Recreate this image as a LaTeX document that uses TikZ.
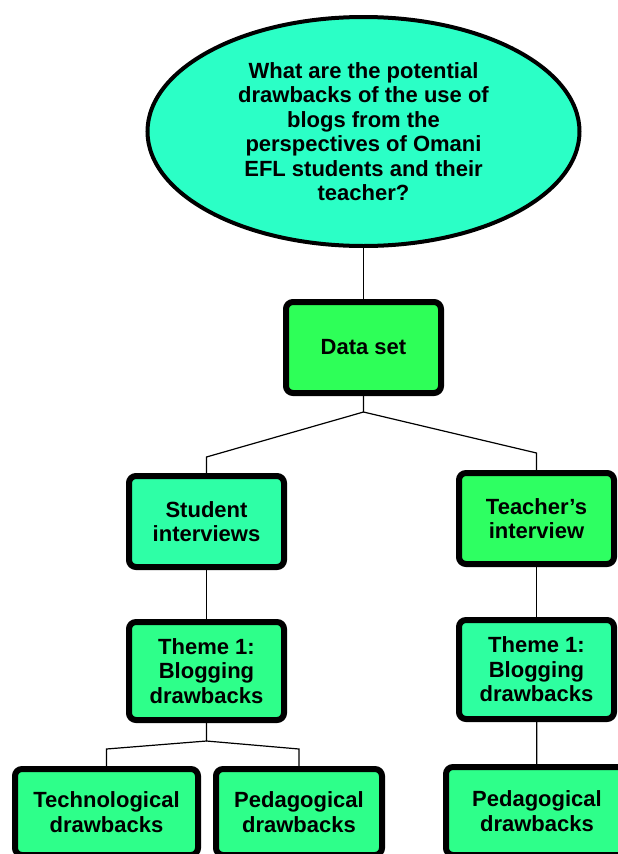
\documentclass[tikz,border=0pt]{standalone}
\usepackage{fontspec}
\setmainfont{Liberation Sans}
\usetikzlibrary{shapes.geometric}
\definecolor{qcol}{HTML}{2BFFC6}
\definecolor{gA}{HTML}{2EFF58}
\definecolor{gB}{HTML}{2EFFA6}
\definecolor{gC}{HTML}{2EFF8A}
\definecolor{gD}{HTML}{2EFF62}
\definecolor{gE}{HTML}{2EFFA0}
\tikzset{
  lbl/.style={font=\fontsize{22}{24.5}\selectfont\bfseries, align=center, text=black},
  question/.style={lbl, ellipse, draw=black, line width=4pt, fill=qcol,
    minimum width=432, minimum height=229, inner sep=0pt},
  box/.style={lbl, rectangle, rounded corners=7pt, draw=black, line width=6pt,
    minimum width=155, minimum height=91, inner sep=0pt},
  link/.style={draw=black, line width=1.2pt}
}
\begin{document}
\begin{tikzpicture}[x=1pt,y=-1pt]
\useasboundingbox[fill=white] (0,0) rectangle (618,854);

% question
\node[question] (q) at (363.5,131.5) {What are the potential\\drawbacks of the use of\\blogs from the\\perspectives of Omani\\EFL students and their\\teacher?};

% data set and the two sources
\node[box, fill=gA] (ds) at (363.5,347.5) {Data set};
\node[box, fill=gB] (si) at (206.5,521.5) {Student\\interviews};
\node[box, fill=gD] (ti) at (536.5,518.5) {Teacher’s\\interview};

% themes
\node[box, fill=gC, minimum height=98] (t1s) at (206.5,671) {Theme 1:\\Blogging\\drawbacks};
\node[box, fill=gE, minimum height=99] (t1t) at (536.5,669.5) {Theme 1:\\Blogging\\drawbacks};

% sub-themes
\node[box, fill=gC, minimum width=183, minimum height=86] (tech) at (106.5,812) {Technological\\drawbacks};
\node[box, fill=gC, minimum width=166, minimum height=86] (peds) at (299,812) {Pedagogical\\drawbacks};
\node[box, fill=gC, minimum width=182, minimum height=88] (pedt) at (537,811) {Pedagogical\\drawbacks};

% branching points
\coordinate (f0) at (363.5,412);
\coordinate (f0l) at (206.5,457);
\coordinate (f0r) at (536.5,453);
\coordinate (f1) at (206.5,741);
\coordinate (f1l) at (106.5,749);
\coordinate (f1r) at (299,749);

% connectors
\draw[link] (q) -- (ds);
\draw[link] (ds) -- (f0) -- (f0l) -- (si);
\draw[link] (f0) -- (f0r) -- (ti);
\draw[link] (si) -- (t1s);
\draw[link] (ti) -- (t1t);
\draw[link] (t1s) -- (f1) -- (f1l) -- (tech);
\draw[link] (f1) -- (f1r) -- (peds);
\draw[link] (t1t) -- (pedt);
\end{tikzpicture}
\end{document}
